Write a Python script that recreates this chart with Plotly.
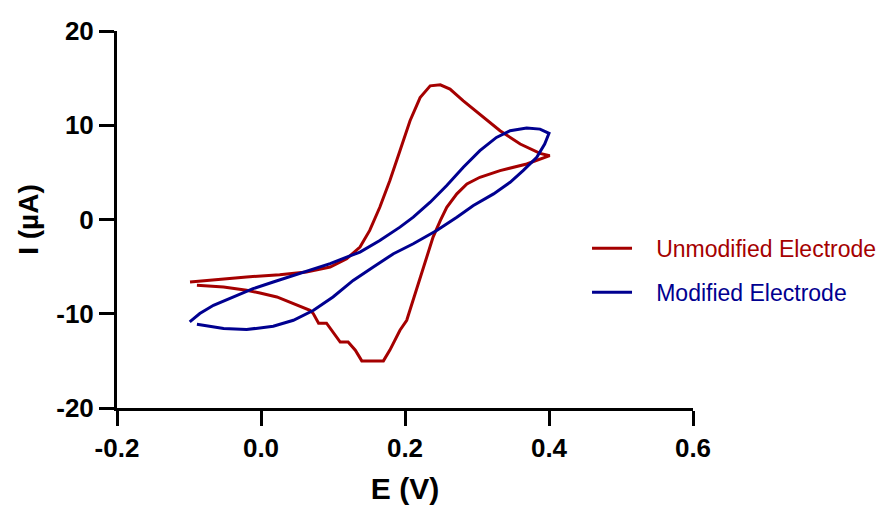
import plotly.graph_objects as go

# Unmodified electrode (red) – forward then reverse scan
unmod_E = [-0.0986, -0.066, -0.020, 0.026, 0.063, 0.096, 0.119, 0.1375, 0.151, 0.165,
           0.179, 0.193, 0.207, 0.221, 0.235, 0.249, 0.2625, 0.281, 0.304, 0.332,
           0.360, 0.3875, 0.401,
           0.369, 0.332, 0.304, 0.286, 0.272, 0.258, 0.249, 0.239, 0.230, 0.221,
           0.2115, 0.2024, 0.193, 0.186, 0.179, 0.170, 0.140, 0.131, 0.121, 0.110,
           0.100, 0.091, 0.080, 0.0726, 0.068, 0.045, 0.022, -0.0014, -0.020,
           -0.052, -0.089]
unmod_I = [-6.63, -6.38, -6.10, -5.86, -5.57, -5.04, -4.16, -2.93, -1.16, 1.30,
           4.13, 7.30, 10.48, 12.94, 14.18, 14.29, 13.83, 12.59, 11.18, 9.42,
           8.01, 7.02, 6.77,
           5.89, 5.19, 4.48, 3.77, 2.72, 1.30, -0.11, -1.87, -3.99, -6.10,
           -8.57, -10.69, -11.75, -12.80, -13.86, -15.0, -15.0, -13.86, -13.0, -13.0,
           -11.92, -11.0, -11.0, -9.98, -9.63, -8.92, -8.22, -7.80, -7.51,
           -7.16, -6.98]

# Modified electrode (blue)
mod_E = [-0.099, -0.085, -0.066, -0.038, -0.011, 0.017, 0.045, 0.073, 0.096, 0.119,
         0.1375, 0.165, 0.193, 0.2115, 0.235, 0.258, 0.281, 0.304, 0.327, 0.346,
         0.369, 0.3875, 0.400,
         0.394, 0.383, 0.364, 0.346, 0.323, 0.295, 0.272, 0.244, 0.2115, 0.184,
         0.156, 0.128, 0.100, 0.073, 0.045, 0.017, -0.020, -0.052, -0.089]
mod_I = [-10.86, -9.98, -9.10, -8.22, -7.34, -6.63, -5.93, -5.22, -4.69, -3.99,
         -3.46, -2.22, -0.81, 0.25, 1.83, 3.60, 5.54, 7.30, 8.71, 9.42,
         9.70, 9.59, 9.14,
         8.01, 6.60, 5.19, 3.95, 2.72, 1.48, 0.25, -1.16, -2.57, -3.63,
         -5.04, -6.46, -8.22, -9.63, -10.69, -11.32, -11.68, -11.57, -11.11]

x_ticks = [-0.2, 0.0, 0.2, 0.4, 0.6]
x_tick_labels = ["-0.2", "0.0", "0.2", "0.4", "0.6"]
y_ticks = [-20, -10, 0, 10, 20]
y_tick_labels = ["-20", "-10", "0", "10", "20"]
series_names = ["Unmodified Electrode", "Modified Electrode"]

RED = "#A50000"
BLUE = "#000090"
FONT = "Liberation Sans, Arial, sans-serif"
PAD = "&nbsp;&nbsp;&nbsp;"

fig = go.Figure()
fig.add_trace(go.Scatter(x=unmod_E, y=unmod_I, mode="lines",
                         line=dict(color=RED, width=3),
                         name=f"{PAD}<span style='color:{RED}'>{series_names[0]}</span>",
                         legendgroup="a"))
fig.add_trace(go.Scatter(x=mod_E, y=mod_I, mode="lines",
                         line=dict(color=BLUE, width=3),
                         name=f"{PAD}<span style='color:{BLUE}'>{series_names[1]}</span>",
                         legendgroup="b"))

fig.update_layout(
    width=879, height=505,
    margin=dict(l=117, r=186, t=31, b=97, autoexpand=False),
    paper_bgcolor="white", plot_bgcolor="white",
    font=dict(family=FONT, color="black"),
    showlegend=True,
    legend=dict(x=0.816, y=0.365, xanchor="left", yanchor="middle",
                font=dict(size=23, family=FONT),
                tracegroupgap=11, itemwidth=40, bgcolor="rgba(0,0,0,0)"),
    xaxis=dict(range=[-0.2, 0.6], tickvals=x_ticks, ticktext=x_tick_labels,
               automargin=False,
               showgrid=False, zeroline=False, showline=True, linecolor="black",
               linewidth=3, ticks="outside", ticklen=15, tickwidth=3, tickcolor="black",
               tickfont=dict(size=26, family=FONT, weight="bold"),
               title=dict(text="<b>E (V)</b>", font=dict(size=30, family=FONT), standoff=16)),
    yaxis=dict(range=[-20, 20], tickvals=y_ticks, ticktext=y_tick_labels,
               automargin=False,
               showgrid=False, zeroline=False, showline=True, linecolor="black",
               linewidth=3, ticks="outside", ticklen=15, tickwidth=3, tickcolor="black",
               tickfont=dict(size=26, family=FONT, weight="bold"),
               title=dict(text="<b>I (µA)</b>", font=dict(size=28, family=FONT), standoff=10)),
)

fig.write_html("out.html")
